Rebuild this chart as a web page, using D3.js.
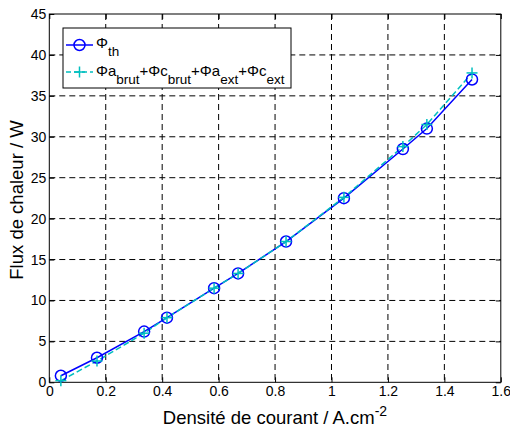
<!DOCTYPE html>
<html><head><meta charset="utf-8">
<script src="https://cdn.jsdelivr.net/npm/d3@7"></script>
<style>body{margin:0;background:#fff}svg{display:block;font-family:"Liberation Sans",Arial,sans-serif}</style>
</head><body><svg id="c" width="510" height="434"></svg>
<script>
const xValues = [0.041, 0.169, 0.336, 0.417, 0.584, 0.669, 0.839, 1.044, 1.253, 1.338, 1.498];
const phiTh = [0.8, 3.0, 6.2, 7.9, 11.5, 13.3, 17.2, 22.5, 28.5, 31.0, 37.0];
const phiSum = [0.2, 2.6, 6.0, 7.9, 11.5, 13.3, 17.2, 22.6, 28.8, 31.5, 37.8];
const xTicks = [0, 0.2, 0.4, 0.6, 0.8, 1, 1.2, 1.4, 1.6];
const yTicks = [0, 5, 10, 15, 20, 25, 30, 35, 40, 45];

const svg = d3.select("#c");
const L = 49.3, R = 500.8, T = 14, B = 382.3;
const x = d3.scaleLinear().domain([0, 1.6]).range([L, R]);
const y = d3.scaleLinear().domain([0, 45]).range([B, T]);

// grid
const g = svg.append("g");
g.selectAll(".vg").data(xTicks.slice(1, -1)).enter().append("line")
  .attr("x1", d => x(d)).attr("x2", d => x(d)).attr("y1", T).attr("y2", B)
  .attr("stroke", "#000").attr("stroke-dasharray", "6,4").attr("stroke-width", 1);
g.selectAll(".hg").data(yTicks.slice(1, -1)).enter().append("line")
  .attr("y1", d => y(d)).attr("y2", d => y(d)).attr("x1", L).attr("x2", R)
  .attr("stroke", "#000").attr("stroke-dasharray", "6,4").attr("stroke-width", 1);

// axes
const xa = svg.append("g").attr("transform", `translate(0,${B})`)
  .call(d3.axisBottom(x).tickValues(xTicks).tickFormat(d3.format("")).tickSizeInner(-5).tickSizeOuter(0).tickPadding(4));
const xt = svg.append("g").attr("transform", `translate(0,${T})`)
  .call(d3.axisTop(x).tickValues(xTicks).tickFormat("").tickSizeInner(-5).tickSizeOuter(0));
const ya = svg.append("g").attr("transform", `translate(${L},0)`)
  .call(d3.axisLeft(y).tickValues(yTicks).tickSizeInner(-5).tickSizeOuter(0).tickPadding(3));
const yr = svg.append("g").attr("transform", `translate(${R},0)`)
  .call(d3.axisRight(y).tickValues(yTicks).tickFormat("").tickSizeInner(-5).tickSizeOuter(0));
[xa, xt, ya, yr].forEach(a => {
  a.selectAll("text").attr("font-size", 14).attr("fill", "#000").attr("font-family", "Liberation Sans, Arial, sans-serif");
  a.selectAll("line").attr("stroke", "#000");
  a.select(".domain").remove();
});
svg.append("rect").attr("x", L).attr("y", T).attr("width", R - L).attr("height", B - T)
  .attr("fill", "none").attr("stroke", "#000").attr("stroke-width", 1);

// lines
const lineTh = d3.line().x((d, i) => x(xValues[i])).y(d => y(d));
svg.append("path").datum(phiTh).attr("d", lineTh).attr("fill", "none").attr("stroke", "#0000ff").attr("stroke-width", 1.5);
svg.append("path").datum(phiSum).attr("d", lineTh).attr("fill", "none").attr("stroke", "#00bfbf").attr("stroke-width", 1.5).attr("stroke-dasharray", "6,3");

svg.selectAll(".pt").data(phiTh).enter().append("circle")
  .attr("cx", (d, i) => x(xValues[i])).attr("cy", d => y(d)).attr("r", 5.5)
  .attr("fill", "none").attr("stroke", "#0000ff").attr("stroke-width", 1.5);
const plus = (sel, cx, cy, s) => {
  sel.append("line").attr("x1", cx - s).attr("x2", cx + s).attr("y1", cy).attr("y2", cy).attr("stroke", "#00bfbf").attr("stroke-width", 1.5);
  sel.append("line").attr("x1", cx).attr("x2", cx).attr("y1", cy - s).attr("y2", cy + s).attr("stroke", "#00bfbf").attr("stroke-width", 1.5);
};
const pg = svg.append("g");
phiSum.forEach((d, i) => plus(pg, x(xValues[i]), y(d), 5.5));

// legend
const lg = svg.append("g");
lg.append("rect").attr("x", 63).attr("y", 28).attr("width", 228).attr("height", 60)
  .attr("fill", "#fff").attr("stroke", "#000").attr("stroke-width", 1);
lg.append("line").attr("x1", 66).attr("x2", 93).attr("y1", 45).attr("y2", 45).attr("stroke", "#0000ff").attr("stroke-width", 1.5);
lg.append("circle").attr("cx", 79.5).attr("cy", 45).attr("r", 5.5).attr("fill", "none").attr("stroke", "#0000ff").attr("stroke-width", 1.5);
lg.append("line").attr("x1", 66).attr("x2", 93).attr("y1", 72).attr("y2", 72).attr("stroke", "#00bfbf").attr("stroke-width", 1.5).attr("stroke-dasharray", "5,3");
plus(lg, 79.5, 72, 5.5);
const t1 = lg.append("text").attr("x", 96).attr("y", 48).attr("font-size", 15);
t1.append("tspan").text("Φ");
t1.append("tspan").attr("dy", 8).attr("font-size", 13.5).text("th");
const t2 = lg.append("text").attr("x", 96).attr("y", 76).attr("font-size", 15);
const parts = [["Φa", "brut"], ["+Φc", "brut"], ["+Φa", "ext"], ["+Φc", "ext"]];
parts.forEach((p, i) => {
  t2.append("tspan").attr("dy", i === 0 ? 0 : -8).text(p[0]);
  t2.append("tspan").attr("dy", 8).attr("font-size", 13.5).text(p[1]);
});

// axis titles
const xl = svg.append("text").attr("x", 275).attr("y", 424).attr("text-anchor", "middle").attr("font-size", 18.5);
xl.append("tspan").text("Densité de courant / A.cm");
xl.append("tspan").attr("dy", -8).attr("font-size", 14).text("-2");
svg.append("text").attr("transform", "translate(23,200) rotate(-90)").attr("text-anchor", "middle").attr("font-size", 18.5).text("Flux de chaleur / W");
</script></body></html>
